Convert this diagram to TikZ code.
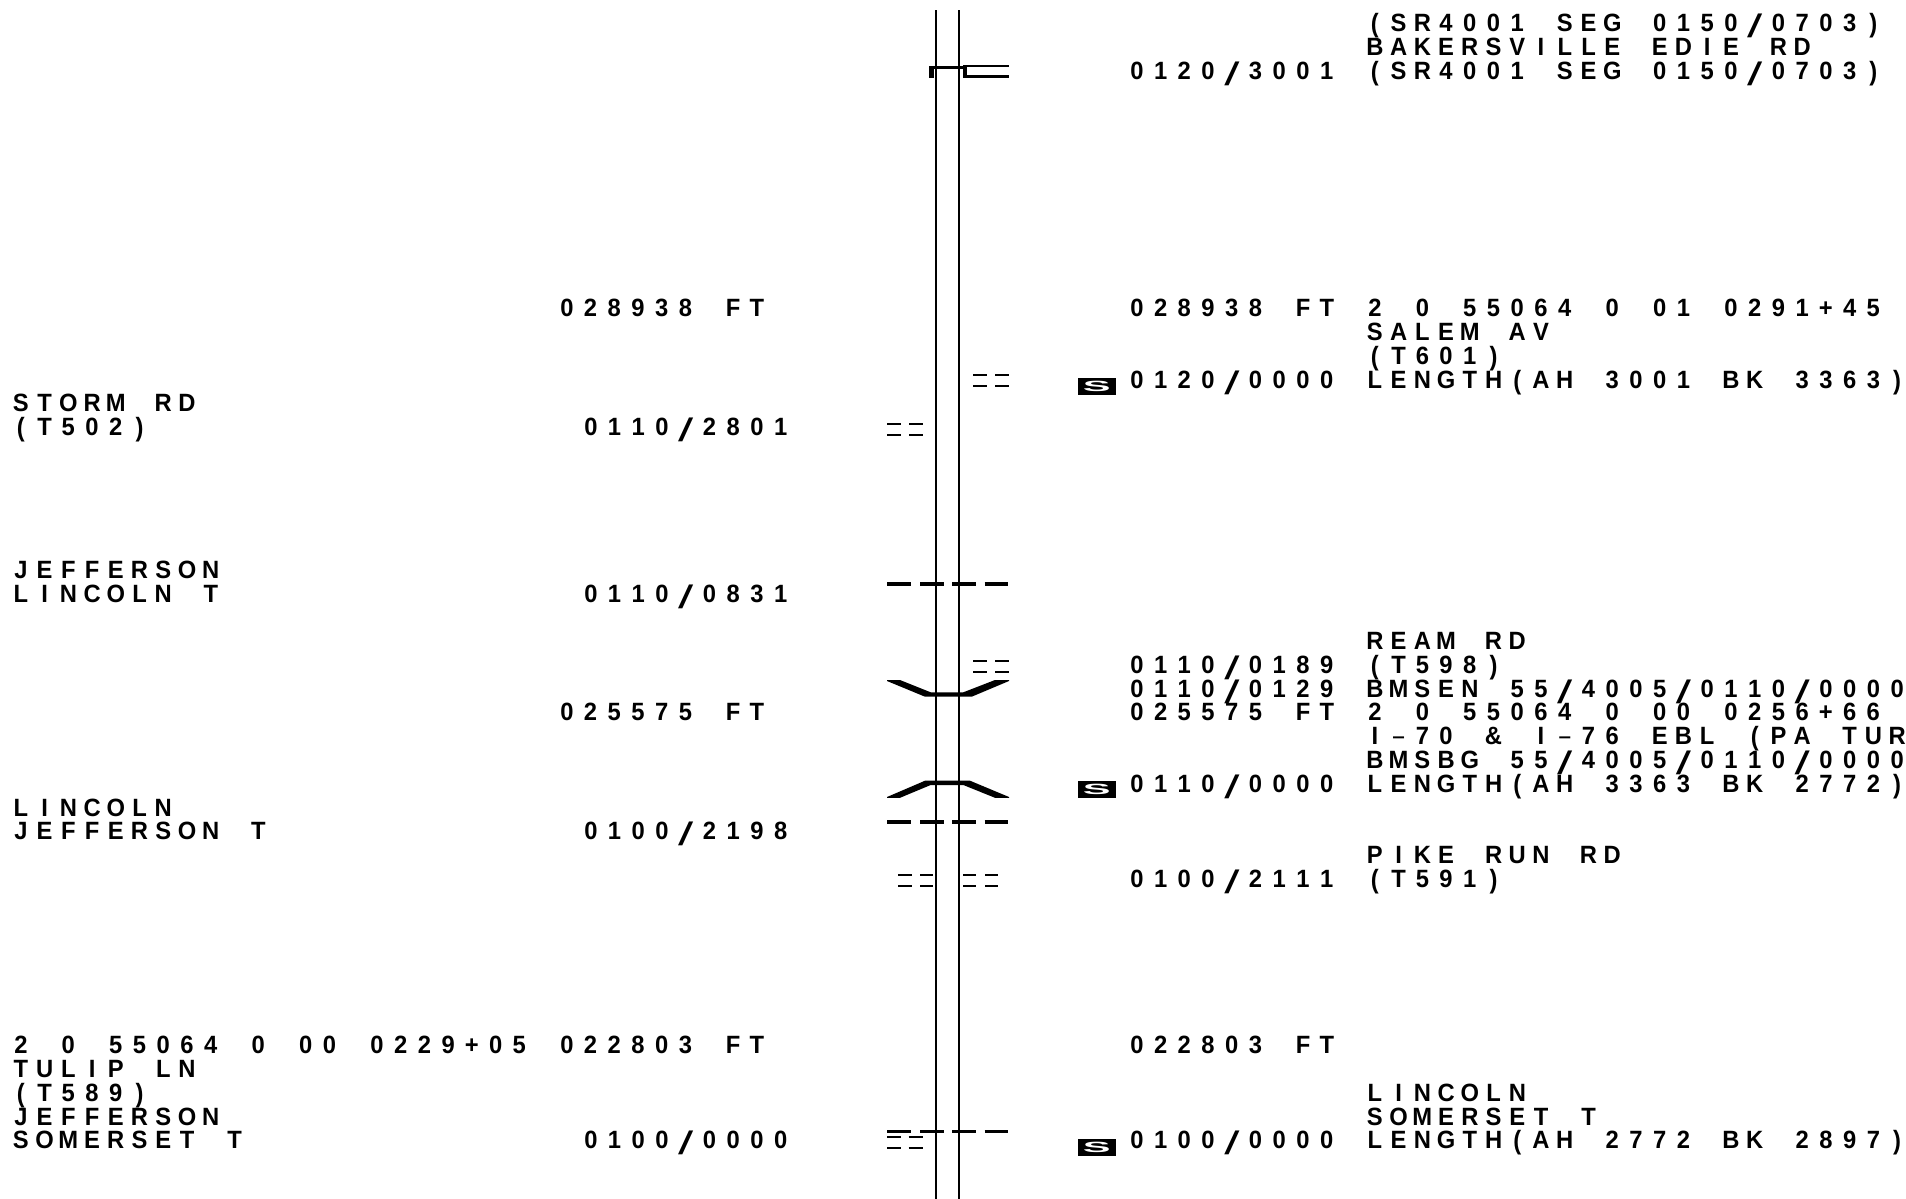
\documentclass[tikz,border=0pt]{standalone}
\usepackage{fontspec}
\usepackage{graphicx}
\setmainfont{Liberation Sans}[FakeStretch=0.95]
\ExplSyntaxOn
\bool_new:N \l_pt_first_bool
\cs_new_protected:Npn \pt_char:n #1
  {
    \makebox[23.74pt][c]
      {
        \str_case:nnF { #1 }
          {
            { / } { \raisebox{-6pt}{\scalebox{2.3}[1.3]{\mdseries/}} }
            { - } { \scalebox{1.9}[1]{\mdseries-} }
            { ( } { \raisebox{-1pt}{\scalebox{1}[1.06]{(}} }
            { ) } { \raisebox{-1pt}{\scalebox{1}[1.06]{)}} }
          }
          { #1 }
      }
  }
\NewDocumentCommand \ptxt { m }
  {
    \seq_set_split:Nnn \l_tmpa_seq { ~ } { #1 }
    \bool_set_true:N \l_pt_first_bool
    \seq_map_inline:Nn \l_tmpa_seq
      {
        \bool_if:NTF \l_pt_first_bool
          { \bool_set_false:N \l_pt_first_bool }
          { \hspace*{23.74pt} }
        \tl_map_function:nN { ##1 } \pt_char:n
      }
  }
\ExplSyntaxOff
\tikzset{
  x=1pt,y=-1pt,
  txt/.style={anchor=base west,inner sep=0pt,outer sep=0pt,font=\fontsize{25pt}{25pt}\selectfont\bfseries,text=black},
  road/.style={draw=black,line width=2pt},
  dbl/.style={draw=black,line width=2.4pt},
  dsh/.style={draw=black,line width=3.2pt},
  sbox/.style={fill=black,text=white,inner sep=0pt,minimum width=38pt,minimum height=17pt,font=\fontsize{19pt}{19pt}\selectfont\bfseries}
}
\newcommand{\rowy}[1]{31.6+23.77*#1}
\begin{document}
\begin{tikzpicture}
\useasboundingbox (0,0) rectangle (1906,1199);
% mainline
\coordinate (l1) at (936.3,10.5); \coordinate (l2) at (936.3,1199);
\coordinate (r1) at (959.3,10.5); \coordinate (r2) at (959.3,1199);
\draw[road] (l1) -- (l2);
\draw[road] (r1) -- (r2);
% top structure
\draw[line width=3.4pt] (929,67.7) -- (966,67.7);
\fill (929,66) rectangle (934,78);
\fill (963,65.5) rectangle (966.5,77.7);
\draw[dbl] (963,66.3) -- (1009,66.3);
\draw[dbl] (963,76.7) -- (1009,76.7);
% == ticks right, row 15
\foreach \y in {375,386}{
  \draw[dbl] (973.3,\y) -- (987.3,\y);
  \draw[dbl] (995,\y) -- (1009,\y);
}
% == ticks left, row 17
\foreach \y in {424,435}{
  \draw[dbl] (887,\y) -- (901,\y);
  \draw[dbl] (909,\y) -- (923,\y);
}
% == ticks right at REAM RD
\foreach \y in {660.7,671.7}{
  \draw[dbl] (973.3,\y) -- (987.3,\y);
  \draw[dbl] (995,\y) -- (1009,\y);
}
% == ticks both sides at PIKE RUN
\foreach \y in {875,885.7}{
  \draw[dbl] (898.3,\y) -- (911.7,\y);
  \draw[dbl] (920,\y) -- (933,\y);
  \draw[dbl] (963.3,\y) -- (976,\y);
  \draw[dbl] (985,\y) -- (998,\y);
}
% == ticks bottom left
\foreach \y in {1136.7,1147.7}{
  \draw[dbl] (887,\y) -- (900.7,\y);
  \draw[dbl] (908.7,\y) -- (922.7,\y);
}
% dashed crossings
\foreach \y in {584,822,1131.3}{
  \draw[dsh] (887,\y) -- (911,\y);
  \draw[dsh] (920,\y) -- (943.5,\y);
  \draw[dsh] (952,\y) -- (976,\y);
  \draw[dsh] (984.7,\y) -- (1008,\y);
}
% interchange ramps
\fill (887,680) -- (900,680) -- (930.7,692.3) -- (963.3,692.3) -- (995,680) -- (1009,680) -- (1009,681) -- (971.7,696.7) -- (925,696.7) -- (887,681) -- cycle;
\fill (887,797) -- (925,780.7) -- (970,780.7) -- (1009,797) -- (1009,797.8) -- (995,797.8) -- (963.3,785) -- (930.7,785) -- (900,797.8) -- (887,797.8) -- cycle;
% S boxes
\node[sbox] (s1) at (1096.8,386) {\scalebox{2.3}[0.78]{S}};
\node[sbox] (s2) at (1096.8,789.8) {\scalebox{2.3}[0.78]{S}};
\node[sbox] (s3) at (1096.8,1147.2) {\scalebox{2.3}[0.78]{S}};
% far-right column
\node[txt] (a00) at (1363,{\rowy{0}}) {\ptxt{(SR4001 SEG 0150/0703)}};
\node[txt] (a01) at (1363,{\rowy{1}}) {\ptxt{BAKERSVILLE EDIE RD}};
\node[txt] (a02) at (1363,{\rowy{2}}) {\ptxt{(SR4001 SEG 0150/0703)}};
\node[txt] (a12) at (1363,{\rowy{12}}) {\ptxt{2 0 55064 0 01 0291+45}};
\node[txt] (a13) at (1363,{\rowy{13}}) {\ptxt{SALEM AV}};
\node[txt] (a14) at (1363,{\rowy{14}}) {\ptxt{(T601)}};
\node[txt] (a15) at (1363,{\rowy{15}}) {\ptxt{LENGTH(AH 3001 BK 3363)}};
\node[txt] (a26) at (1363,{\rowy{26}}) {\ptxt{REAM RD}};
\node[txt] (a27) at (1363,{\rowy{27}}) {\ptxt{(T598)}};
\node[txt] (a28) at (1363,{\rowy{28}}) {\ptxt{BMSEN 55/4005/0110/0000}};
\node[txt] (a29) at (1363,{\rowy{29}}) {\ptxt{2 0 55064 0 00 0256+66}};
\node[txt] (a30) at (1363,{\rowy{30}}) {\ptxt{I-70 \& I-76 EBL (PA TUR}};
\node[txt] (a31) at (1363,{\rowy{31}}) {\ptxt{BMSBG 55/4005/0110/0000}};
\node[txt] (a32) at (1363,{\rowy{32}}) {\ptxt{LENGTH(AH 3363 BK 2772)}};
\node[txt] (a35) at (1363,{\rowy{35}}) {\ptxt{PIKE RUN RD}};
\node[txt] (a36) at (1363,{\rowy{36}}) {\ptxt{(T591)}};
\node[txt] (a45) at (1363,{\rowy{45}}) {\ptxt{LINCOLN}};
\node[txt] (a46) at (1363,{\rowy{46}}) {\ptxt{SOMERSET T}};
\node[txt] (a47) at (1363,{\rowy{47}}) {\ptxt{LENGTH(AH 2772 BK 2897)}};
% right offset column
\node[txt] (b02) at (1125,{\rowy{2}}) {\ptxt{0120/3001}};
\node[txt] (b12) at (1125,{\rowy{12}}) {\ptxt{028938 FT}};
\node[txt] (b15) at (1125,{\rowy{15}}) {\ptxt{0120/0000}};
\node[txt] (b27) at (1125,{\rowy{27}}) {\ptxt{0110/0189}};
\node[txt] (b28) at (1125,{\rowy{28}}) {\ptxt{0110/0129}};
\node[txt] (b29) at (1125,{\rowy{29}}) {\ptxt{025575 FT}};
\node[txt] (b32) at (1125,{\rowy{32}}) {\ptxt{0110/0000}};
\node[txt] (b36) at (1125,{\rowy{36}}) {\ptxt{0100/2111}};
\node[txt] (b43) at (1125,{\rowy{43}}) {\ptxt{022803 FT}};
\node[txt] (b47) at (1125,{\rowy{47}}) {\ptxt{0100/0000}};
% left offset column
\node[txt] (c12) at (555,{\rowy{12}}) {\ptxt{028938 FT}};
\node[txt] (c17) at (579,{\rowy{17}}) {\ptxt{0110/2801}};
\node[txt] (c24) at (579,{\rowy{24}}) {\ptxt{0110/0831}};
\node[txt] (c29) at (555,{\rowy{29}}) {\ptxt{025575 FT}};
\node[txt] (c34) at (579,{\rowy{34}}) {\ptxt{0100/2198}};
\node[txt] (c43) at (555,{\rowy{43}}) {\ptxt{022803 FT}};
\node[txt] (c47) at (579,{\rowy{47}}) {\ptxt{0100/0000}};
% far-left column
\node[txt] (d16) at (9,{\rowy{16}}) {\ptxt{STORM RD}};
\node[txt] (d17) at (9,{\rowy{17}}) {\ptxt{(T502)}};
\node[txt] (d23) at (9,{\rowy{23}}) {\ptxt{JEFFERSON}};
\node[txt] (d24) at (9,{\rowy{24}}) {\ptxt{LINCOLN T}};
\node[txt] (d33) at (9,{\rowy{33}}) {\ptxt{LINCOLN}};
\node[txt] (d34) at (9,{\rowy{34}}) {\ptxt{JEFFERSON T}};
\node[txt] (d43) at (9,{\rowy{43}}) {\ptxt{2 0 55064 0 00 0229+05}};
\node[txt] (d44) at (9,{\rowy{44}}) {\ptxt{TULIP LN}};
\node[txt] (d45) at (9,{\rowy{45}}) {\ptxt{(T589)}};
\node[txt] (d46) at (9,{\rowy{46}}) {\ptxt{JEFFERSON}};
\node[txt] (d47) at (9,{\rowy{47}}) {\ptxt{SOMERSET T}};
\end{tikzpicture}
\end{document}
